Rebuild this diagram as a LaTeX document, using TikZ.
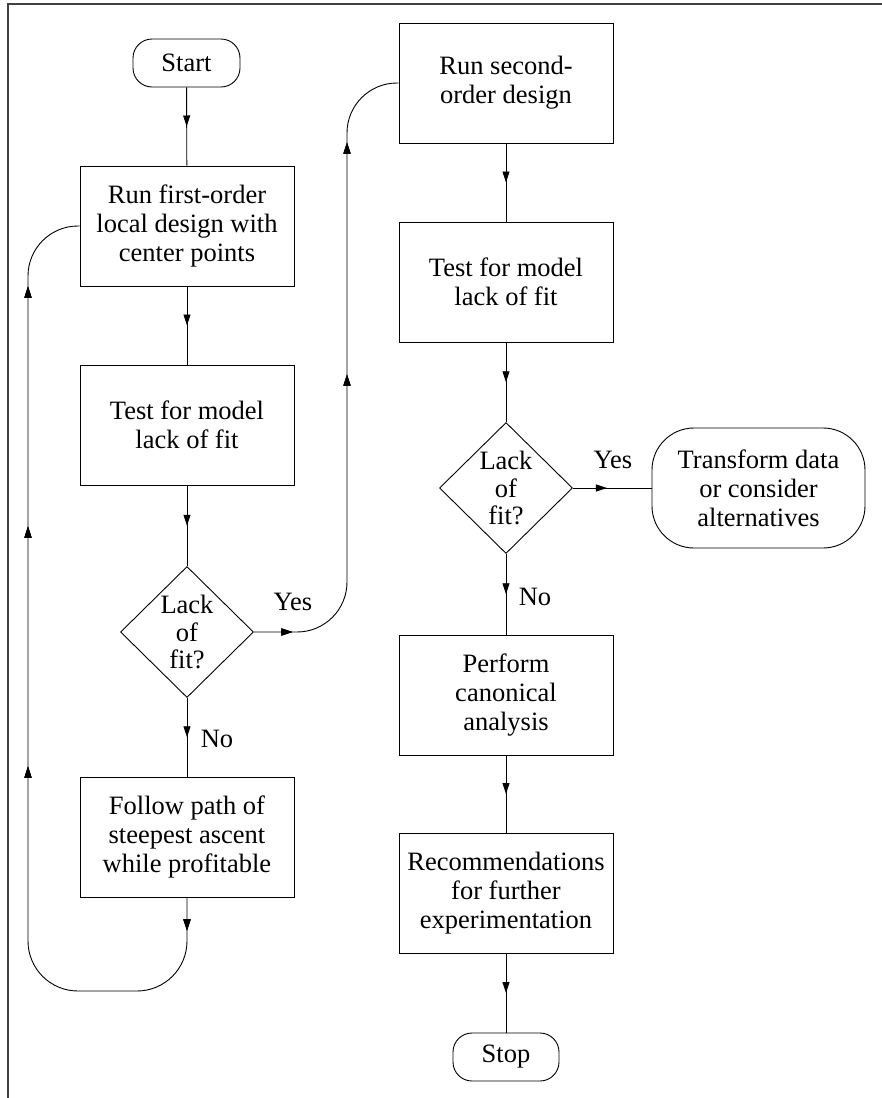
\documentclass[tikz,border=0pt]{standalone}
\usepackage{fontspec}
\setmainfont{Liberation Serif}
\usetikzlibrary{shapes.geometric,arrows.meta,decorations.markings}

\tikzset{
  txt/.style={font=\fontsize{26.5pt}{29pt}\selectfont, align=center, inner sep=0pt},
  procbox/.style={txt, draw, line width=0.9pt, minimum width=214pt, minimum height=120pt},
  termbox/.style={txt, draw, line width=0.9pt, rounded corners=19pt, minimum width=107pt, minimum height=48pt},
  decision/.style={txt, draw, line width=0.9pt, diamond, minimum width=133pt, minimum height=131pt,
    font=\fontsize{26.5pt}{27.5pt}\selectfont},
  flowtip/.tip={Triangle[length=11pt,width=7pt]},
  conn/.style={line width=0.9pt},
  midtip/.style={conn, postaction={decorate}, decoration={markings,
      mark=at position 0.5 with {\arrow{flowtip}}}},
  tipat/.style={postaction={decorate}, decoration={markings,
      mark=at position #1 with {\arrow{flowtip}}}},
}

\begin{document}
\begin{tikzpicture}[x=1pt, y=-1pt]
\useasboundingbox (0,0) rectangle (882,1098);

% outer frame (top and left edges only)
\draw[line width=1.3pt, black!75] (8,1098) -- (8,4) -- (882,4);

% left column
\node[termbox] (start) at (186.5,63) {Start};
\node[procbox] (b1) at (187,226) {Run first-order\\local design with\\center points};
\node[procbox] (b2) at (187,425) {Test for model\\lack of fit};
\node[decision] (d1) at (187,632) {Lack\\of\\fit?};
\node[procbox] (b3) at (187,837) {Follow path of\\steepest ascent\\while profitable};

% right column
\node[procbox] (b4) at (506,83) {Run second-\\order design};
\node[procbox] (b5) at (506,282) {Test for model\\lack of fit};
\node[decision] (d2) at (506,488) {Lack\\of\\fit?};
\node[termbox, rounded corners=42pt, minimum width=213pt, minimum height=120pt] (tr) at (758.5,488) {Transform data\\or consider\\alternatives};
\node[procbox] (b6) at (506,695) {Perform\\canonical\\analysis};
\node[procbox] (b7) at (506,893) {Recommendations\\for further\\experimentation};
\node[termbox, minimum width=106pt] (stop) at (506,1057) {Stop};

% branch labels
\node[txt] (yes1) at (293,602) {Yes};
\node[txt] (no1) at (217,739) {No};
\node[txt] (yes2) at (613,460) {Yes};
\node[txt] (no2) at (535,597) {No};

% turning points of the two loops
\coordinate (lpbr) at (187,991);
\coordinate (lpbl) at (28,991);
\coordinate (lptl) at (28,226);
\coordinate (ypb) at (347,632);
\coordinate (ypt) at (347,83);

% straight connectors
\draw[midtip] (start) -- (b1);
\draw[midtip] (b1) -- (b2);
\draw[midtip] (b2) -- (d1.north);
\draw[midtip] (d1.south) -- (b3);
\draw[midtip] (b4) -- (b5);
\draw[midtip] (b5) -- (d2.north);
\draw[midtip] (d2.south) -- (b6);
\draw[midtip] (b6) -- (b7);
\draw[midtip] (b7) -- (stop);
\draw[conn, tipat=34pt] (d2.east) -- (tr.west);

% return loop to the first-order design
\draw[conn, rounded corners=50pt,
  tipat=33pt, tipat=434pt, tipat=674pt, tipat=914pt]
  (b3.south) -- (lpbr) -- (lpbl) -- (lptl) -- (b1.west);

% "Yes" path to the second-order design
\draw[conn, rounded corners=50pt,
  tipat=38.5pt, tipat=329pt, tipat=561pt]
  (d1.east) -- (ypb) -- (ypt) -- (b4.west);
\end{tikzpicture}
\end{document}
